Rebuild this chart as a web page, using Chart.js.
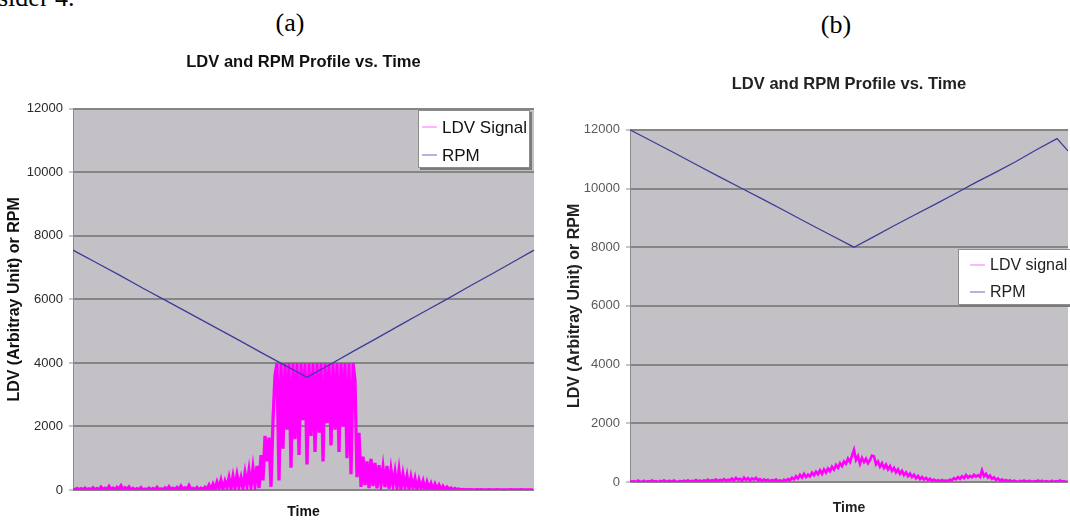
<!DOCTYPE html>
<html>
<head>
<meta charset="utf-8">
<script src="https://cdn.jsdelivr.net/npm/chart.js@4.4.1/dist/chart.umd.min.js"></script>
<style>
  html, body { margin: 0; padding: 0; background: #fff; }
  body { width: 1070px; height: 525px; overflow: hidden; position: relative; }
  .cap { position: absolute; font-family: 'Liberation Serif', 'Times New Roman', serif; font-size: 26px; line-height: 30px; color: #000; white-space: nowrap; }
  .box { position: absolute; top: 0; height: 525px; }
</style>
</head>
<body>
<div class="cap" style="left:-2px; top:-17px;">sider 4.</div>
<div class="cap" style="left:260px; top:8px; width:60px; text-align:center;">(a)</div>
<div class="cap" style="left:806px; top:10px; width:60px; text-align:center;">(b)</div>
<div class="box" style="left:0; width:545px;"><canvas id="chartA"></canvas></div>
<div class="box" style="left:555px; width:515px;"><canvas id="chartB"></canvas></div>
<script>
// ---- data (a) ----
var titleA = 'LDV and RPM Profile vs. Time';
var seriesA = ['LDV Signal', 'RPM'];
// LDV samples, one every 2 time units
var ldvA = [
  30, 5, 50, 10, 40, 0, 60, 15, 35, 5,
  70, 10, 45, 0, 90, 20, 55, 5, 110, 15,
  60, 0, 80, 25, 130, 10, 70, 20, 95, 5,
  50, 0, 40, 10, 75, 0, 30, 5, 60, 10,
  45, 0, 85, 15, 40, 5, 65, 0, 100, 20,
  55, 10, 80, 0, 120, 25, 70, 15, 140, 30,
  50, 10, 80, 0, 60, 15, 90, 20, 150, 10,
  180, 20, 240, 50, 300, 30, 270, 90, 380, 40,
  420, 70, 460, 100, 380, 60, 520, 130, 600, 90,
  680, 150, 760, 60, 1100, 300, 1700, 900, 1650, 100,
  2200, 3600,
  4000, 300, 4000, 1300, 4000, 1900, 4000, 700, 4000, 1600,
  4000, 1100, 4000, 2200, 4000, 800, 4000, 1700, 4000, 1200,
  4000, 1800, 4000, 900, 4000, 2100, 4000, 1400, 4000, 1900,
  4000, 1200, 4000, 2000, 4000, 1000, 4000, 500, 4000,
  3450, 400, 1800,
  100, 1050, 150, 900, 60, 980,
  120, 850, 50, 780, 180, 700, 90, 760, 40, 620,
  150, 560, 70, 600, 30, 480, 110, 430, 20, 390,
  80, 350, 10, 300, 60, 270, 0, 240, 40, 200,
  10, 180, 30, 150, 0, 120, 20, 90, 5, 60,
  0, 45, 10, 30, 0, 20, 5, 15, 0, 10,
  5, 0, 15, 0, 10, 0, 5, 0, 10, 0,
  5, 0, 10, 0, 5, 0, 0, 5, 0, 10,
  0, 5, 0, 0, 10, 0, 5, 0, 0, 5, 0
];
var rpmTimeA = [0, 23, 46, 70, 93, 117, 140, 164, 187, 211, 234, 257, 281, 304, 327, 351, 374, 397, 421, 444, 461];
var rpmA = [7550, 7160, 6770, 6350, 5960, 5550, 5160, 4750, 4350, 3940, 3550, 3950, 4380, 4780, 5190, 5610, 6010, 6420, 6840, 7250, 7550];

// ---- data (b) ----
var titleB = 'LDV and RPM Profile vs. Time';
var seriesB = ['LDV signal', 'RPM'];
var ldvB = [
  40, 10, 30, 0, 50, 20, 10, 40, 0, 30,
  20, 50, 10, 30, 0, 40, 15, 60, 5, 30,
  40, 10, 50, 20, 0, 35, 10, 45, 20, 60,
  10, 40, 30, 70, 20, 50, 10, 60, 30, 80,
  20, 60, 40, 90, 30, 70, 50, 100, 40, 80,
  60, 120, 50, 140, 80, 110, 40, 150, 70, 130,
  50, 120, 80, 140, 60, 100, 30, 90, 50, 80,
  20, 70, 40, 90, 30, 60, 10, 80, 40, 100,
  60, 150, 90, 200, 120, 240, 150, 280, 170, 250,
  190, 320, 230, 350, 260, 400, 280, 430, 320, 460,
  370, 520, 420, 580, 480, 640, 540, 700, 620, 800,
  680, 900, 1100, 750, 880, 620, 820, 680, 790, 640,
  750, 900, 880, 600, 700, 520, 640, 480, 590, 430,
  540, 380, 480, 330, 430, 280, 380, 240, 330, 200,
  290, 170, 250, 130, 210, 100, 170, 80, 140, 60,
  110, 40, 80, 30, 60, 20, 70, 40, 50, 30,
  80, 60, 130, 90, 170, 110, 200, 130, 240, 150,
  210, 160, 250, 180, 230, 170, 400, 200, 280, 150,
  220, 110, 160, 70, 120, 40, 90, 30, 70, 20,
  60, 10, 50, 30, 0, 40, 20, 50, 10, 30,
  40, 0, 30, 20, 50, 10, 40, 0, 30, 20,
  10, 40, 0, 30, 20, 50, 10, 30, 0, 20
];
var rpmTimeB = [0, 22, 45, 67, 90, 112, 134, 157, 179, 202, 224, 244, 264, 284, 305, 325, 345, 366, 386, 406, 427, 438];
var rpmB = [12000, 11610, 11200, 10800, 10390, 10000, 9610, 9200, 8800, 8390, 8000, 8360, 8730, 9090, 9460, 9820, 10190, 10560, 10920, 11310, 11700, 11280];

var yTickValues = [0, 2000, 4000, 6000, 8000, 10000, 12000];
var yTickLabels = ['0', '2000', '4000', '6000', '8000', '10000', '12000'];
var yTitle = 'LDV (Arbitray Unit) or RPM';
var xTitle = 'Time';
var ldvStep = 2;

Chart.defaults.font.family = "'Liberation Sans', Arial, sans-serif";

// gray plot background
var plotBg = {
  id: 'plotBg',
  beforeDraw: function(chart, args, o) {
    var a = chart.chartArea, ctx = chart.ctx;
    ctx.save();
    ctx.fillStyle = o.color;
    ctx.fillRect(a.left, a.top, a.right - a.left, a.bottom - a.top);
    ctx.restore();
  }
};

// white boxed legend sitting over the plot
var boxLegend = {
  id: 'boxLegend',
  afterDraw: function(chart, args, o) {
    var ctx = chart.ctx;
    ctx.save();
    ctx.fillStyle = '#7a7a7a';
    ctx.fillRect(o.x + 2, o.y + 2, o.w, o.h);
    ctx.fillStyle = '#fff';
    ctx.fillRect(o.x, o.y, o.w, o.h);
    ctx.strokeStyle = '#8c8c8c';
    ctx.lineWidth = 1;
    ctx.strokeRect(o.x + 0.5, o.y + 0.5, o.w - 1, o.h - 1);
    ctx.font = o.font;
    ctx.textBaseline = 'middle';
    chart.data.datasets.forEach(function(ds, i) {
      var y = o.y + o.rows[i];
      ctx.strokeStyle = o.colors[i];
      ctx.lineWidth = 1.5;
      ctx.beginPath();
      ctx.moveTo(o.x + o.sx[0], y);
      ctx.lineTo(o.x + o.sx[1], y);
      ctx.stroke();
      ctx.fillStyle = o.textColor;
      ctx.fillText(ds.label, o.x + o.tx, y + 1);
    });
    ctx.restore();
  }
};

function makeChart(id, cfg) {
  var ldvPts = cfg.ldv.map(function(v, i) { return {x: i * ldvStep, y: v}; });
  var rpmPts = cfg.rpm.map(function(v, i) { return {x: cfg.rpmTime[i], y: v}; });
  return new Chart(document.getElementById(id), {
    type: 'line',
    data: {
      datasets: [
        { label: cfg.series[0], data: ldvPts, borderColor: '#ff00ff', borderWidth: cfg.ldvWidth, pointRadius: 0, order: 2 },
        { label: cfg.series[1], data: rpmPts, borderColor: '#3d3d99', borderWidth: 1.3, pointRadius: 0, order: 1 }
      ]
    },
    options: {
      responsive: true,
      maintainAspectRatio: false,
      animation: false,
      layout: { padding: { left: 0, right: cfg.padRight, top: 0, bottom: 0 } },
      plugins: {
        legend: { display: false },
        tooltip: { enabled: false },
        title: {
          display: true,
          fullSize: false,
          text: cfg.title,
          color: cfg.titleColor,
          font: { size: 16.5, weight: 'bold' },
          padding: { top: cfg.titleTop, bottom: cfg.titleBottom }
        },
        plotBg: { color: '#c3c1c5' },
        boxLegend: cfg.legend
      },
      scales: {
        x: {
          type: 'linear',
          min: 0,
          max: cfg.xMax,
          grid: { display: false },
          border: { display: false },
          ticks: { display: false },
          title: { display: true, text: xTitle, color: cfg.titleColor, font: { size: 14, weight: 'bold' }, padding: { top: 0, bottom: cfg.timePad } },
          afterFit: function(s) { s.height = cfg.xHeight; }
        },
        y: {
          min: 0,
          max: 12000,
          afterBuildTicks: function(s) { s.ticks = yTickValues.map(function(v) { return {value: v}; }); },
          grid: { color: '#858585', lineWidth: 2, tickLength: 4, tickColor: '#8c8c8c', tickWidth: 1 },
          border: { display: true, color: '#8c8c8c', width: 1 },
          ticks: {
            color: cfg.tickColor, font: { size: 13 }, padding: 6,
            callback: function(v, i) { return yTickLabels[i]; }
          },
          title: { display: true, text: yTitle, color: cfg.titleColor, font: { size: 16, weight: 'bold' }, padding: { top: cfg.yTitlePad, bottom: 0 } },
          afterFit: function(s) { s.width = cfg.yWidth; }
        }
      }
    },
    plugins: [plotBg, boxLegend]
  });
}

makeChart('chartA', {
  title: titleA, series: seriesA, ldv: ldvA, rpm: rpmA, rpmTime: rpmTimeA,
  xMax: 461, padRight: 11, yWidth: 73, xHeight: 35, ldvWidth: 3.3,
  titleTop: 53, titleBottom: 36, timePad: 4, yTitlePad: 5,
  titleColor: '#111', tickColor: '#2a2a2a',
  legend: { x: 418, y: 110, w: 112, h: 58, rows: [17, 45], sx: [4, 19], tx: 24,
            font: "17px 'Liberation Sans', Arial, sans-serif", textColor: '#111', colors: ['#ff9cff', '#9a9ad0'] }
});

makeChart('chartB', {
  title: titleB, series: seriesB, ldv: ldvB, rpm: rpmB, rpmTime: rpmTimeB,
  xMax: 438, padRight: 2, yWidth: 75, xHeight: 43, ldvWidth: 2.6,
  titleTop: 75, titleBottom: 35, timePad: 8.6, yTitlePad: 10.4,
  titleColor: '#222', tickColor: '#5a5a5a',
  legend: { x: 403, y: 249, w: 160, h: 56, rows: [16, 43], sx: [12, 27], tx: 32,
            font: "16px 'Liberation Sans', Arial, sans-serif", textColor: '#222', colors: ['#ff9cff', '#9a9ad0'] }
});
</script>
</body>
</html>
